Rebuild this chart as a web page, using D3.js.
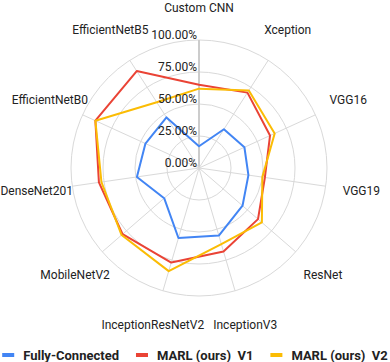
<!DOCTYPE html>
<html lang="en">
<head>
    <meta charset="UTF-8">
    <title>Radar</title>
    <script src="https://d3js.org/d3.v7.min.js"></script>
    <style>
        body { margin: 0; background: #fff; }
        text { font-family: Roboto, "Noto Sans", sans-serif; font-size: 12px; fill: #222; }
    </style>
</head>
<body>
    <div id="chart"></div>
    <script>
        var categories = ["Custom CNN", "Xception", "VGG16", "VGG19", "ResNet", "InceptionV3",
            "InceptionResNetV2", "MobileNetV2", "DenseNet201", "EfficientNetB0", "EfficientNetB5"];
        var fullyConnected = [17, 36, 39, 39, 45, 55, 57, 36, 49, 46, 47];
        var marlV1 = [65, 70, 61, 52, 61, 68, 77, 79, 79, 89, 90];
        var marlV2 = [62, 72, 65, 50, 65, 62, 84, 80, 77, 89, 61];
        var ticks = [0, 25, 50, 75, 100];
        var seriesNames = ["Fully-Connected", "MARL (ours)  V1", "MARL (ours)  V2"];
        var colors = ["#4285f4", "#ea4335", "#fbbc04"];

        var width = 390, height = 362;
        var cx = 199, cy = 168;

        var r = d3.scaleLinear().domain([0, 100]).range([0, 128]);
        var angle = d3.scaleLinear().domain([0, categories.length]).range([0, 2 * Math.PI]);

        var svg = d3.select("#chart").append("svg")
            .attr("width", width)
            .attr("height", height);

        var g = svg.append("g").attr("transform", "translate(" + cx + "," + cy + ")");

        // rings
        g.selectAll(".ring")
            .data(ticks.slice(1))
            .enter().append("circle")
            .attr("r", function(d) { return r(d); })
            .attr("fill", "none")
            .attr("stroke", "#d9d9d9");

        // spokes
        g.selectAll(".spoke")
            .data(categories)
            .enter().append("line")
            .attr("x2", function(d, i) { return r(100) * Math.sin(angle(i)); })
            .attr("y2", function(d, i) { return -r(100) * Math.cos(angle(i)); })
            .attr("stroke", function(d, i) { return i === 0 ? "#cccccc" : "#d9d9d9"; })
            .attr("stroke-width", function(d, i) { return i === 0 ? 2 : 1; });

        // category labels
        var labelR = function(i) { return i === 0 ? 160 : 164; };
        g.selectAll(".cat")
            .data(categories)
            .enter().append("text")
            .attr("x", function(d, i) { return labelR(i) * Math.sin(angle(i)); })
            .attr("y", function(d, i) { return -labelR(i) * Math.cos(angle(i)); })
            .attr("text-anchor", "middle")
            .attr("dominant-baseline", "central")
            .text(function(d) { return d; });

        // series
        var line = d3.lineRadial()
            .angle(function(d, i) { return angle(i); })
            .radius(function(d) { return r(d); })
            .curve(d3.curveLinearClosed);

        [fullyConnected, marlV1, marlV2].forEach(function(s, k) {
            g.append("path")
                .attr("d", line(s))
                .attr("fill", "none")
                .attr("stroke", colors[k])
                .attr("stroke-width", 2)
                .attr("stroke-linejoin", "round");
        });

        // tick labels
        g.selectAll(".tick")
            .data(ticks)
            .enter().append("text")
            .attr("x", -2)
            .attr("y", function(d) { return -r(d) - 1; })
            .attr("text-anchor", "end")
            .text(function(d) { return d.toFixed(2) + "%"; });

        // legend
        var legend = svg.append("g").attr("transform", "translate(0,355)");
        var items = legend.selectAll(".item")
            .data(seriesNames)
            .enter().append("g");

        items.append("rect")
            .attr("width", 12)
            .attr("height", 4)
            .attr("y", -2)
            .attr("fill", function(d, i) { return colors[i]; });

        items.append("text")
            .attr("x", 21)
            .attr("dy", "0.35em")
            .style("font-weight", "bold")
            .style("font-size", "13px")
            .style("white-space", "pre")
            .text(function(d) { return d; });

        var widths = [];
        items.each(function() { widths.push(this.getBBox().width); });
        var gap = 17;
        var total = d3.sum(widths) + gap * (widths.length - 1);
        var x = (width - total) / 2;
        items.attr("transform", function(d, i) {
            var t = "translate(" + x + ",0)";
            x += widths[i] + gap;
            return t;
        });
    </script>
</body>
</html>
